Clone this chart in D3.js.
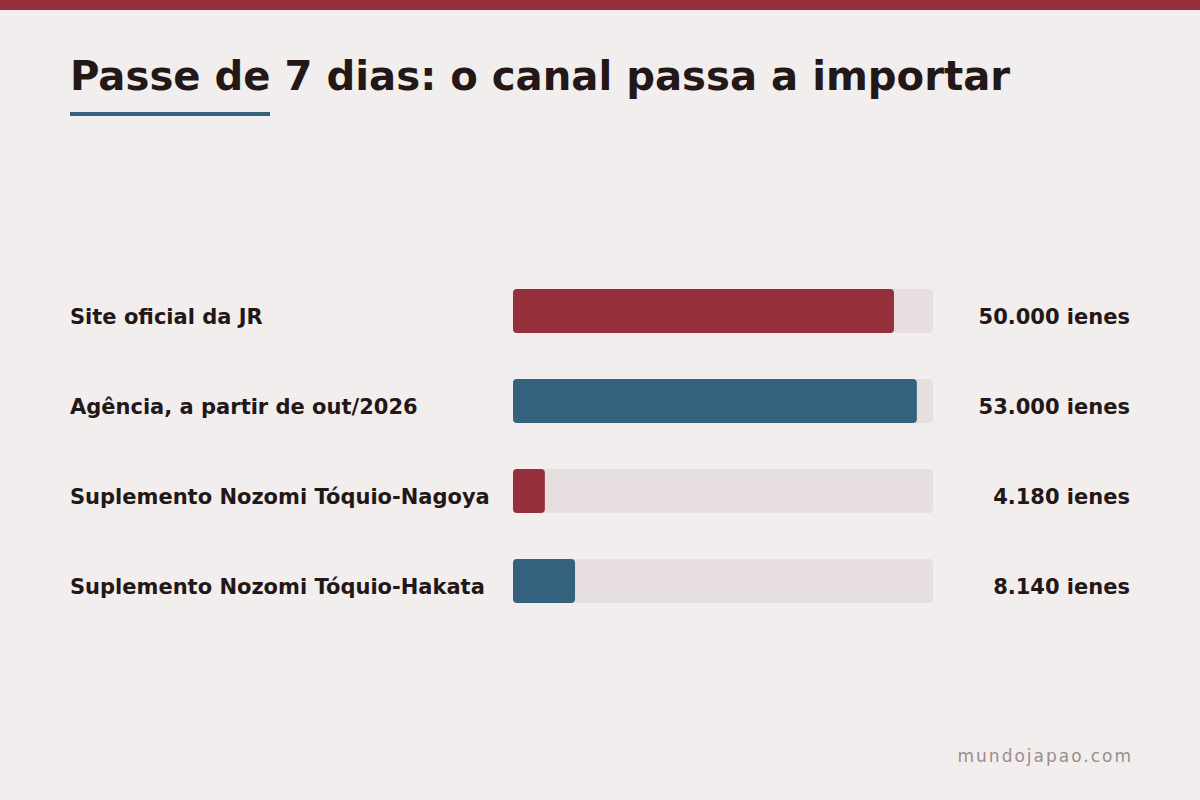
<!DOCTYPE html>
<html>
<head>
<meta charset="utf-8">
<script src="https://cdn.jsdelivr.net/npm/d3@7"></script>
<style>
  html, body { margin: 0; padding: 0; background: #f2eeed; }
  svg { display: block; font-family: "DejaVu Sans", sans-serif; }
</style>
</head>
<body>
<div id="chart"></div>
<script>
(function(){
  // Data
  const categories = [
    "Site oficial da JR",
    "Agência, a partir de out/2026",
    "Suplemento Nozomi Tóquio-Nagoya",
    "Suplemento Nozomi Tóquio-Hakata"
  ];
  const values = [50000, 53000, 4180, 8140];
  const valueLabels = ["50.000 ienes", "53.000 ienes", "4.180 ienes", "8.140 ienes"];
  const barColors = ["#952f3b", "#34627c", "#952f3b", "#34627c"];

  const W = 1200, H = 800;
  const svg = d3.select("#chart").append("svg")
    .attr("width", W)
    .attr("height", H);

  svg.append("rect").attr("width", W).attr("height", H).attr("fill", "#f2eeed");
  // top strip
  svg.append("rect").attr("width", W).attr("height", 10).attr("fill", "#952f3b");

  // Title
  svg.append("text")
    .attr("x", 70).attr("y", 90)
    .attr("fill", "#231718")
    .style("font-size", "40.2px")
    .style("font-weight", "bold")
    .text("Passe de 7 dias: o canal passa a importar");

  svg.append("rect")
    .attr("x", 70).attr("y", 112)
    .attr("width", 200).attr("height", 4)
    .attr("fill", "#34627c");

  // Scales
  const x = d3.scaleLinear()
    .domain([0, d3.max(values) * 1.04])
    .range([513, 933]);

  const y = d3.scaleBand()
    .domain(categories)
    .range([266, 626])
    .paddingInner(0.511)
    .paddingOuter(0.255);

  const rows = svg.append("g").selectAll("g")
    .data(categories)
    .join("g")
    .attr("transform", d => `translate(0,${y(d)})`);

  // track
  rows.append("rect")
    .attr("x", x(0))
    .attr("width", x.range()[1] - x(0))
    .attr("height", y.bandwidth())
    .attr("rx", 4)
    .attr("fill", "#e7dedf");

  rows.append("rect")
    .attr("x", x(0))
    .attr("width", (d, i) => x(values[i]) - x(0))
    .attr("height", y.bandwidth())
    .attr("rx", 4)
    .attr("fill", (d, i) => barColors[i]);

  rows.append("text")
    .attr("x", 70)
    .attr("y", y.bandwidth() / 2 + 13)
    .attr("fill", "#231718")
    .style("font-size", "21px")
    .style("font-weight", "bold")
    .text(d => d);

  rows.append("text")
    .attr("x", 1130)
    .attr("y", y.bandwidth() / 2 + 13)
    .attr("text-anchor", "end")
    .attr("fill", "#231718")
    .style("font-size", "21px")
    .style("font-weight", "bold")
    .text((d, i) => valueLabels[i]);

  // footer
  svg.append("text")
    .attr("x", 1133).attr("y", 762)
    .attr("text-anchor", "end")
    .attr("fill", "#9a8d8e")
    .style("font-size", "17px")
    .style("letter-spacing", "2px")
    .text("mundojapao.com");
})();
</script>
</body>
</html>
